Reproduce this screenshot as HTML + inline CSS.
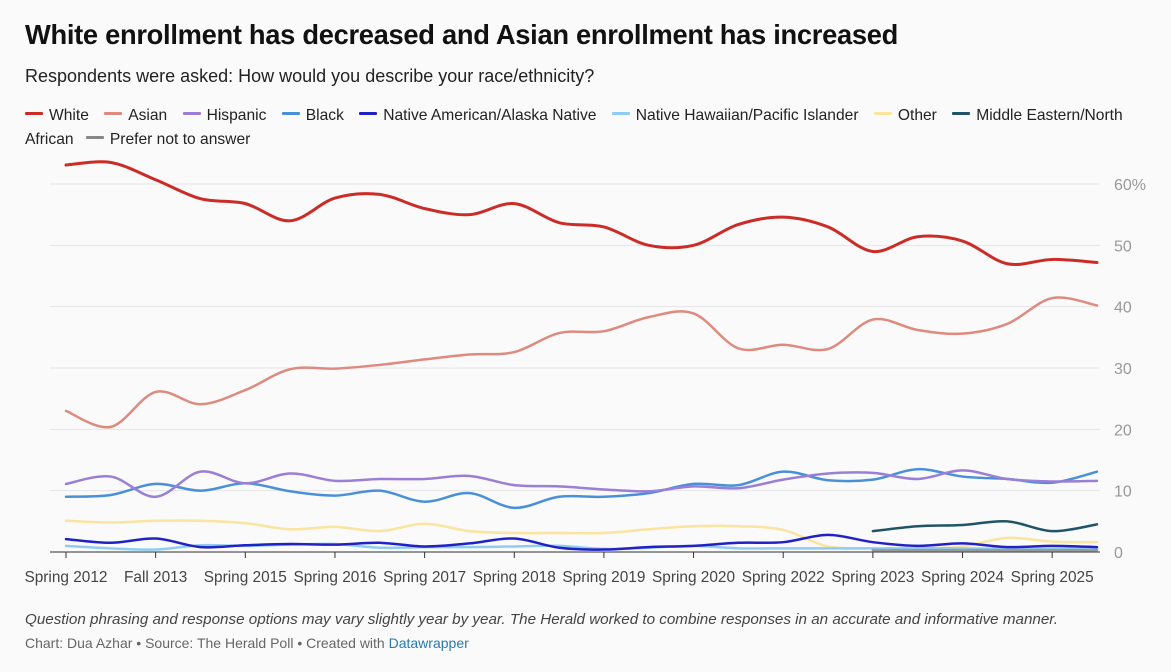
<!DOCTYPE html>
<html><head><meta charset="utf-8">
<style>
body{margin:0;width:1171px;height:672px;background:#fafafa;font-family:"Liberation Sans",Arial,sans-serif;overflow:hidden;position:relative;color:#222}
.t{position:absolute;left:25px;top:19px;font-size:27.3px;font-weight:bold;color:#111;letter-spacing:-0.3px}
.s{position:absolute;left:25px;top:66px;font-size:18px;color:#222}
.lg{position:absolute;left:25px;top:104px;width:1120px;font-size:15.6px;line-height:24px;color:#222}
.li{display:inline-block;margin-right:11px}
.sw{display:inline-block;width:18px;height:3px;vertical-align:middle;margin-right:6px;position:relative;top:-2px;border-radius:1px}
.n{position:absolute;left:25px;top:611px;font-size:15.2px;font-style:italic;color:#444}
.c{position:absolute;left:25px;top:635px;font-size:14px;color:#666}
.c span{color:#2a7ab0}
svg{position:absolute;left:0;top:0}
</style></head><body>
<div class="t">White enrollment has decreased and Asian enrollment has increased</div>
<div class="s">Respondents were asked: How would you describe your race/ethnicity?</div>
<div class="lg">
<span class="li"><span class="sw" style="background:#cc2c27"></span>White</span>
<span class="li"><span class="sw" style="background:#de8a7e"></span>Asian</span>
<span class="li"><span class="sw" style="background:#9b7ed6"></span>Hispanic</span>
<span class="li"><span class="sw" style="background:#4a90d9"></span>Black</span>
<span class="li"><span class="sw" style="background:#2222c4"></span>Native American/Alaska Native</span>
<span class="li"><span class="sw" style="background:#8ecdf0"></span>Native Hawaiian/Pacific Islander</span>
<span class="li"><span class="sw" style="background:#f9e4a0"></span>Other</span>
<span><span class="sw" style="background:#1f5566"></span>Middle Eastern/North<br>African</span>
<span class="li" style="margin-left:8px"><span class="sw" style="background:#888"></span>Prefer not to answer</span>
</div>
<svg id="ch" width="1171" height="672"></svg>
<div class="n">Question phrasing and response options may vary slightly year by year. The Herald worked to combine responses in an accurate and informative manner.</div>
<div class="c">Chart: Dua Azhar • Source: The Herald Poll • Created with <span>Datawrapper</span></div>
<script>
const xLabels=["Spring 2012","Fall 2013","Spring 2015","Spring 2016","Spring 2017","Spring 2018","Spring 2019","Spring 2020","Spring 2022","Spring 2023","Spring 2024","Spring 2025"];
const yTicks=[0,10,20,30,40,50,60];
const white=[63.1,63.5,60.7,57.6,56.8,54,57.7,58.3,56,55,56.8,53.7,53,50,50,53.4,54.6,53,49,51.4,50.7,47,47.7,47.2];
const asian=[23,20.4,26.1,24.1,26.4,29.8,29.9,30.5,31.4,32.2,32.6,35.7,36,38.3,38.9,33.2,33.8,33.1,37.9,36.2,35.6,37.2,41.4,40.2];
const hispanic=[11.1,12.3,9,13.1,11.2,12.8,11.6,11.9,11.9,12.4,10.9,10.7,10.2,9.9,10.7,10.4,11.8,12.8,12.9,11.9,13.3,11.9,11.5,11.6];
const black=[9,9.3,11.1,10,11.2,9.9,9.2,10,8.2,9.6,7.2,9,9,9.6,11.1,10.9,13.1,11.7,11.8,13.5,12.3,11.9,11.3,13.1];
const nativeAm=[2.1,1.5,2.2,0.8,1.1,1.3,1.2,1.5,0.9,1.4,2.2,0.7,0.4,0.8,1,1.5,1.6,2.8,1.6,1,1.4,0.8,1,0.8];
const hawaiian=[1,0.6,0.4,1.1,1,1.2,1.3,0.7,0.8,0.8,0.9,1,0.5,0.7,1,0.6,0.6,0.6,0.6,0.6,0.6,0.5,0.5,0.5];
const other=[5.1,4.8,5.1,5.1,4.7,3.7,4.1,3.4,4.6,3.4,3.1,3.1,3.1,3.7,4.2,4.2,3.6,0.9,0.6,0.6,0.9,2.3,1.7,1.6];
const midEast=[null,null,null,null,null,null,null,null,null,null,null,null,null,null,null,null,null,null,3.4,4.2,4.4,5,3.4,4.5];
const preferNot=[null,null,null,null,null,null,null,null,null,null,null,null,null,null,null,null,null,null,0.3,0.3,0.3,0.3,0.3,0.3];
const series=[["other",other,"#f9e4a0"],["hawaiian",hawaiian,"#8ecdf0"],["prefer-not",preferNot,"#999"],["native-american",nativeAm,"#2222c4"],["middle-eastern",midEast,"#1f5566"],["black",black,"#4a90d9"],["hispanic",hispanic,"#9b7ed6"],["asian",asian,"#de8a7e"],["white",white,"#cc2c27"]];
const NS="http://www.w3.org/2000/svg",svg=document.getElementById('ch');
const N=white.length,x0=66,x1=1097,yTop=184,yBot=552,yMax=60;
const X=i=>x0+(x1-x0)*i/(N-1);
const Y=v=>yBot-(yBot-yTop)*v/yMax;
function mk(t,a){const e=document.createElementNS(NS,t);for(const k in a)e.setAttribute(k,a[k]);svg.appendChild(e);return e;}
yTicks.forEach(v=>{
 if(v>0){const g=mk('line',{x1:50,x2:1100,y1:Y(v),y2:Y(v),stroke:'#e6e6e6','stroke-width':1});
 
 }
 const t=mk('text',{x:1114,y:Y(v)+6,'font-size':16,fill:'#999','font-family':'Liberation Sans, sans-serif'});
 t.textContent=v===60?'60%':String(v);
 
 
});
const ax=mk('line',{x1:50,x2:1100,y1:yBot,y2:yBot,stroke:'#333','stroke-width':1});


xLabels.forEach((l,k)=>{
 const xx=X(k*2);
 const tk=mk('line',{x1:xx,x2:xx,y1:yBot,y2:yBot+6,stroke:'#333'});
 
 
 const t=mk('text',{x:xx,y:582,'font-size':15.4,fill:'#444','text-anchor':'middle','font-family':'Liberation Sans, sans-serif'});
 t.textContent=l;
 
 
});
function path(vals){
 let segs=[],cur=[];
 vals.forEach((v,i)=>{if(v==null){if(cur.length)segs.push(cur);cur=[];}else cur.push([X(i),Y(v)]);});
 if(cur.length)segs.push(cur);
 let d='';
 segs.forEach(p=>{
  d+='M'+p[0][0]+','+p[0][1];
  for(let i=0;i<p.length-1;i++){
   const a=p[i-1]||p[i],b=p[i],c=p[i+1],e=p[i+2]||c;
   const c1=[b[0]+(c[0]-a[0])/6,b[1]+(c[1]-a[1])/6],c2=[c[0]-(e[0]-b[0])/6,c[1]-(e[1]-b[1])/6];
   d+='C'+c1+' '+c2+' '+c;
  }
 });
 return d;
}
series.forEach(([n,v,c])=>{
 const p=mk('path',{d:path(v),fill:'none',stroke:c,'stroke-width':n==='white'?3:2.5,'stroke-linejoin':'round','stroke-linecap':'round'});
 
 
});
</script>
</body></html>
